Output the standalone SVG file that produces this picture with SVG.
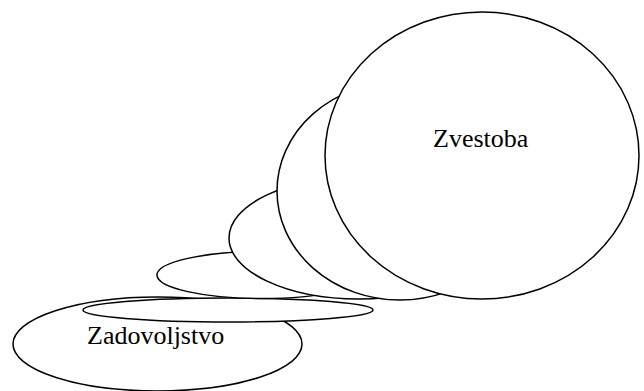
<svg xmlns="http://www.w3.org/2000/svg" width="644" height="391" viewBox="0 0 644 391">
<style>
.e{fill:#fff;stroke:#000;stroke-width:1.5}
.t{font-size:26px;fill:#000}
</style>
<rect width="644" height="391" fill="#fff"/>
<g id="zadovoljstvo">
<ellipse class="e" cx="157.5" cy="344" rx="144.5" ry="47"/>
</g>
<g id="stage1">
<ellipse class="e" cx="228" cy="310" rx="145" ry="12"/>
</g>
<g id="stage2">
<ellipse class="e" cx="262" cy="275" rx="105" ry="23.5"/>
</g>
<g id="stage3">
<ellipse class="e" cx="359" cy="238" rx="130" ry="61"/>
</g>
<g id="stage4">
<ellipse class="e" cx="400" cy="191" rx="123" ry="109"/>
</g>
<g id="zvestoba">
<ellipse class="e" cx="482" cy="155.5" rx="157" ry="143.5"/>
<text class="t" x="433" y="147" font-family="'Liberation Serif', serif">Zvestoba</text>
</g>
<g id="zadovoljstvo-label">
<text class="t" x="87" y="344" font-family="'Liberation Serif', serif">Zadovoljstvo</text>
</g>
<g id="connectors"/>
</svg>
